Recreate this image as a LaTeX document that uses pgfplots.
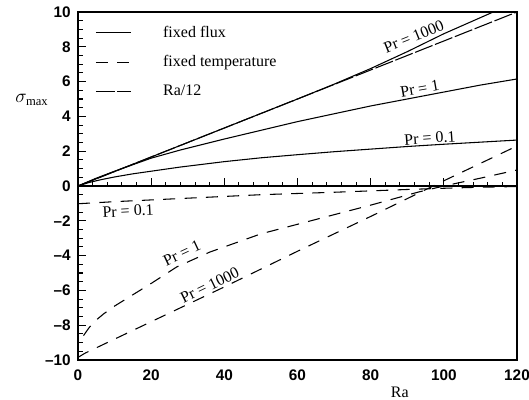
\documentclass[border=0pt]{standalone}
\usepackage{fontspec}
\setmainfont{Liberation Serif}
\setsansfont{Liberation Sans}
\usepackage{pgfplots}
\pgfplotsset{compat=1.18}

\begin{document}
\begin{tikzpicture}
\pgfplotsset{
  common/.style={width=329.25pt, height=261pt, scale only axis,
    xmin=0, xmax=120, ymin=-10, ymax=10},
}
\tikzset{lbl/.style={font=\fontsize{12}{14}\selectfont, inner sep=0pt}}
\begin{axis}[common, name=ax, clip mode=individual,
  xtick={0,20,...,120}, xtick pos=bottom, xtick style={draw=none},
  ytick={-10,-8,...,10}, ytick pos=left, ytick align=inside, minor y tick num=3,
  yticklabels={--10,--8,--6,--4,--2,0,2,4,6,8,10},
  major tick length=6pt, minor tick length=3.5pt,
  tick label style={font=\sffamily\bfseries\fontsize{11.5}{13}\selectfont},
  xticklabel style={yshift=-4pt},
  yticklabel style={xshift=-2pt},
  /pgf/number format/assume math mode=true,
  axis line style={line width=1pt},
  every tick/.style={black, line width=0.8pt},
  legend style={draw=none, fill=none, at={(rel axis cs:0.03,0.975)}, anchor=north west,
    font=\fontsize{12}{14}\selectfont, row sep=8pt,
    /tikz/every odd column/.append style={column sep=22pt}},
  legend cell align=left,
  legend image code/.code={\draw[#1, line width=0.8pt] (0pt,0pt) -- (26pt,0pt);},
]
\addlegendimage{black, solid}
\addlegendentry{fixed flux}
\addlegendimage{black, dash pattern=on 9pt off 7pt}
\addlegendentry{fixed temperature}
\addlegendimage{black, dash pattern=on 14pt off 2pt}
\addlegendentry{Ra/12}

% fixed flux
\addplot[forget plot, black, line width=0.8pt] coordinates {
  (0,0) (20,1.667) (40,3.333) (60,5.0) (70,5.85) (80,6.75) (90,7.72) (100,8.75) (113.5,10) (120,10.6)
};
\addplot[forget plot, black, line width=0.8pt] coordinates {
  (0,0) (5,0.45) (10,0.85) (20,1.6) (28,2.07) (40,2.7) (50,3.2) (60,3.7) (70,4.15)
  (80,4.6) (90,5.0) (100,5.4) (110,5.8) (120,6.15)
};
\addplot[forget plot, black, line width=0.8pt] coordinates {
  (0,0) (3,0.2) (6,0.35) (10,0.52) (15,0.7) (20,0.85) (28,1.09) (40,1.4) (50,1.62)
  (60,1.8) (70,1.97) (80,2.12) (90,2.27) (100,2.4) (110,2.52) (120,2.64)
};
% Ra/12
\addplot[forget plot, black, line width=0.8pt, dash pattern=on 14pt off 2pt] coordinates {
  (0,0) (120,10)
};
% fixed temperature
\addplot[forget plot, black, line width=0.8pt, dash pattern=on 9pt off 7pt] coordinates {
  (0,-1.02) (10,-0.9) (20,-0.8) (30,-0.7) (40,-0.6) (50,-0.5) (60,-0.43) (70,-0.36)
  (80,-0.28) (90,-0.2) (100,-0.13) (110,-0.07) (120,-0.03)
};
\addplot[forget plot, black, line width=0.8pt, dash pattern=on 9pt off 7pt] coordinates {
  (1.5,-8.6) (3,-8.15) (5,-7.7) (7,-7.35) (10,-6.9) (15,-6.25) (20,-5.6) (27,-4.65)
  (36,-3.8) (50,-2.75) (60,-2.2) (70,-1.65) (80,-1.1) (93,-0.35) (100,0.0) (110,0.45) (120,0.92)
};
\addplot[forget plot, black, line width=0.8pt, dash pattern=on 9pt off 7pt] coordinates {
  (0,-9.85) (2,-9.6) (5,-9.3) (10,-8.8) (20,-7.8) (40,-5.8) (60,-3.75) (80,-1.75) (100,0.3) (120,2.3)
};

\node[lbl, rotate=22] at (axis cs:91.8,8.6) {Pr = 1000};
\node[lbl, rotate=10] at (axis cs:93.4,5.6) {Pr = 1};
\node[lbl, rotate=4] at (axis cs:96.2,2.75) {Pr = 0.1};
\node[lbl, rotate=3] at (axis cs:13.7,-1.44) {Pr = 0.1};
\node[lbl, rotate=25] at (axis cs:28.4,-3.85) {Pr = 1};
\node[lbl, rotate=26] at (axis cs:36,-5.7) {Pr = 1000};

\node[font=\fontsize{13.5}{15}\selectfont] at (axis description cs:-0.105,0.747) {$\sigma_{\mathrm{max}}$};
\node[lbl] at (axis description cs:0.733,-0.093) {Ra};
\end{axis}

\begin{axis}[common,
  axis x line=middle, axis y line=none,
  axis line style={-, line width=0.8pt},
  xtick={0,20,...,120}, xticklabels={}, minor x tick num=4, xtick align=inside,
  ytick=\empty,
  major tick length=6pt, minor tick length=3pt,
  every tick/.style={black, line width=0.8pt},
]
\end{axis}

\pgfresetboundingbox
\path[use as bounding box] ([shift={(-58.5pt,-30pt)}]ax.south west) rectangle ([shift={(9pt,9pt)}]ax.north east);
\end{tikzpicture}
\end{document}
